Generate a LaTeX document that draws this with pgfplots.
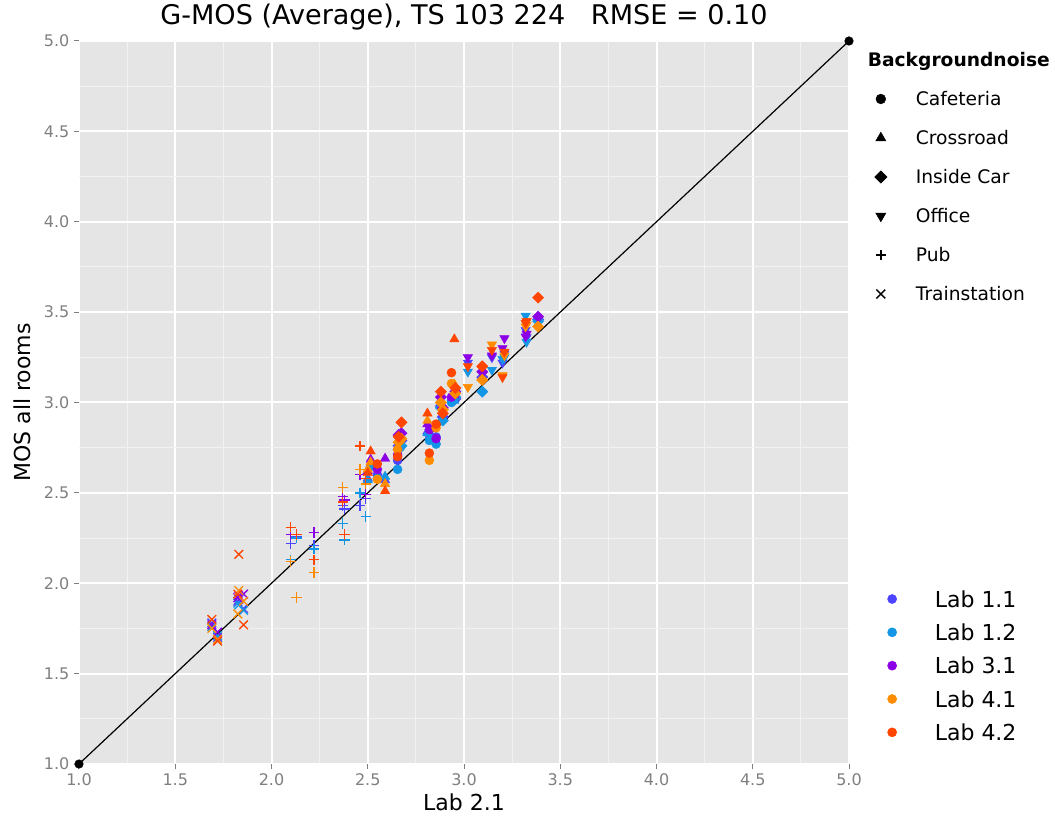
\documentclass[border=0pt]{standalone}
\usepackage{fontspec}
\setmainfont{DejaVu Sans}
\usepackage{pgfplots}
\usepackage{pgfplotstable}
\pgfplotsset{compat=1.18}

\definecolor{panelbg}{HTML}{E5E5E5}
\definecolor{minorgrid}{HTML}{F2F2F2}
\definecolor{axisgray}{HTML}{7F7F7F}
\definecolor{lab11}{HTML}{4C44FF}
\definecolor{lab12}{HTML}{1496E6}
\definecolor{lab31}{HTML}{8C00E6}
\definecolor{lab41}{HTML}{FF8C00}
\definecolor{lab42}{HTML}{FF4500}

% plot symbols, one per background noise
\pgfdeclareplotmark{gcirc}{\pgfsetlinewidth{0.3pt}%
  \pgfpathcircle{\pgfpointorigin}{\pgfplotmarksize}\pgfusepathqfillstroke}
\pgfdeclareplotmark{gup}{\pgfsetlinewidth{0.3pt}%
  \pgfpathmoveto{\pgfqpoint{0pt}{1.2\pgfplotmarksize}}%
  \pgfpathlineto{\pgfqpoint{-1.039\pgfplotmarksize}{-.6\pgfplotmarksize}}%
  \pgfpathlineto{\pgfqpoint{1.039\pgfplotmarksize}{-.6\pgfplotmarksize}}%
  \pgfpathclose\pgfusepathqfillstroke}
\pgfdeclareplotmark{gdown}{\pgfsetlinewidth{0.3pt}%
  \pgfpathmoveto{\pgfqpoint{0pt}{-1.2\pgfplotmarksize}}%
  \pgfpathlineto{\pgfqpoint{-1.039\pgfplotmarksize}{.6\pgfplotmarksize}}%
  \pgfpathlineto{\pgfqpoint{1.039\pgfplotmarksize}{.6\pgfplotmarksize}}%
  \pgfpathclose\pgfusepathqfillstroke}
\pgfdeclareplotmark{gdia}{\pgfsetlinewidth{0.3pt}%
  \pgfpathmoveto{\pgfqpoint{0pt}{1.25\pgfplotmarksize}}%
  \pgfpathlineto{\pgfqpoint{1.25\pgfplotmarksize}{0pt}}%
  \pgfpathlineto{\pgfqpoint{0pt}{-1.25\pgfplotmarksize}}%
  \pgfpathlineto{\pgfqpoint{-1.25\pgfplotmarksize}{0pt}}%
  \pgfpathclose\pgfusepathqfillstroke}
\pgfdeclareplotmark{gplus}{\pgfsetlinewidth{1.0pt}%
  \pgfpathmoveto{\pgfqpoint{-1.15\pgfplotmarksize}{0pt}}%
  \pgfpathlineto{\pgfqpoint{1.15\pgfplotmarksize}{0pt}}%
  \pgfpathmoveto{\pgfqpoint{0pt}{-1.15\pgfplotmarksize}}%
  \pgfpathlineto{\pgfqpoint{0pt}{1.15\pgfplotmarksize}}%
  \pgfusepathqstroke}
\pgfdeclareplotmark{gcross}{\pgfsetlinewidth{1.0pt}%
  \pgfpathmoveto{\pgfqpoint{-.95\pgfplotmarksize}{-.95\pgfplotmarksize}}%
  \pgfpathlineto{\pgfqpoint{.95\pgfplotmarksize}{.95\pgfplotmarksize}}%
  \pgfpathmoveto{\pgfqpoint{-.95\pgfplotmarksize}{.95\pgfplotmarksize}}%
  \pgfpathlineto{\pgfqpoint{.95\pgfplotmarksize}{-.95\pgfplotmarksize}}%
  \pgfusepathqstroke}

% x = Lab 2.1, y = MOS all rooms, n = background noise
% (1 Trainstation, 2 Pub, 3 Cafeteria, 4 Crossroad, 5 Inside Car, 6 Office)
\pgfplotstableread{
x y n
1.69 1.78 1
1.72 1.70 1
1.83 1.91 1
1.825 1.90 1
1.855 1.86 1
2.10 2.22 2
2.13 2.26 2
2.22 2.21 2
2.37 2.43 2
2.38 2.41 2
2.46 2.43 2
2.49 2.47 2
2.55 2.60 3
2.655 2.68 3
2.82 2.82 3
2.855 2.81 3
2.935 3.01 3
2.515 2.66 4
2.50 2.58 4
2.59 2.57 4
2.81 2.84 4
2.95 3.02 4
2.675 2.79 5
2.66 2.76 5
2.88 2.98 5
2.89 2.92 5
2.955 3.02 5
3.095 3.14 5
3.385 3.46 5
3.02 3.22 6
3.145 3.25 6
3.21 3.27 6
3.20 3.22 6
3.32 3.40 6
3.325 3.36 6
}\labA

\pgfplotstableread{
x y n
1.69 1.76 1
1.72 1.71 1
1.83 1.88 1
1.825 1.89 1
1.855 1.85 1
2.10 2.13 2
2.13 2.25 2
2.22 2.19 2
2.37 2.33 2
2.38 2.24 2
2.46 2.50 2
2.49 2.37 2
2.55 2.58 3
2.655 2.63 3
2.82 2.79 3
2.855 2.77 3
2.935 3.00 3
2.515 2.64 4
2.50 2.57 4
2.59 2.59 4
2.81 2.83 4
2.95 3.01 4
2.675 2.76 5
2.66 2.74 5
2.88 2.97 5
2.89 2.90 5
2.955 3.03 5
3.095 3.06 5
3.385 3.45 5
3.02 3.17 6
3.145 3.18 6
3.21 3.25 6
3.20 3.24 6
3.32 3.48 6
3.325 3.335 6
}\labB

\pgfplotstableread{
x y n
1.69 1.77 1
1.72 1.73 1
1.83 1.93 1
1.825 1.92 1
1.855 1.94 1
2.10 2.27 2
2.13 2.27 2
2.22 2.28 2
2.37 2.48 2
2.38 2.46 2
2.46 2.60 2
2.49 2.49 2
2.55 2.63 3
2.655 2.71 3
2.82 2.85 3
2.855 2.80 3
2.935 3.03 3
2.515 2.685 4
2.50 2.62 4
2.59 2.69 4
2.81 2.88 4
2.95 3.04 4
2.675 2.83 5
2.66 2.82 5
2.88 3.03 5
2.89 2.97 5
2.955 3.06 5
3.095 3.17 5
3.385 3.475 5
3.02 3.25 6
3.145 3.26 6
3.21 3.355 6
3.20 3.30 6
3.32 3.365 6
3.325 3.38 6
}\labC

\pgfplotstableread{
x y n
1.69 1.75 1
1.72 1.69 1
1.83 1.96 1
1.825 1.83 1
1.855 1.90 1
2.10 2.12 2
2.13 1.92 2
2.22 2.06 2
2.37 2.53 2
2.38 2.27 2
2.46 2.63 2
2.49 2.55 2
2.55 2.575 3
2.655 2.74 3
2.82 2.68 3
2.855 2.86 3
2.935 3.105 3
2.515 2.67 4
2.50 2.63 4
2.59 2.55 4
2.81 2.90 4
2.95 3.10 4
2.675 2.80 5
2.66 2.78 5
2.88 3.00 5
2.89 2.96 5
2.955 3.05 5
3.095 3.125 5
3.385 3.42 5
3.02 3.085 6
3.145 3.32 6
3.21 3.26 6
3.20 3.15 6
3.32 3.42 6
3.325 3.43 6
}\labD

\pgfplotstableread{
x y n
1.69 1.80 1
1.72 1.68 1
1.83 2.16 1
1.825 1.94 1
1.855 1.77 1
2.10 2.31 2
2.13 2.27 2
2.22 2.13 2
2.37 2.45 2
2.38 2.27 2
2.46 2.76 2
2.49 2.58 2
2.55 2.66 3
2.655 2.70 3
2.82 2.72 3
2.855 2.88 3
2.935 3.165 3
2.515 2.73 4
2.50 2.61 4
2.59 2.51 4
2.81 2.94 4
2.95 3.35 4
2.675 2.89 5
2.66 2.81 5
2.88 3.06 5
2.89 2.94 5
2.955 3.08 5
3.095 3.20 5
3.385 3.58 5
3.02 3.20 6
3.145 3.29 6
3.21 3.28 6
3.20 3.14 6
3.32 3.44 6
3.325 3.45 6
}\labE

\pgfplotsset{
  % keep only the rows of one background noise
  noise/.style={forget plot, only marks, mark size=3.4pt,
    restrict expr to domain={\thisrow{n}}{#1:#1}},
  panelsize/.style={scale only axis, width=577.5pt, height=542.25pt},
}

% all points of one lab, one symbol per background noise
\newcommand\labpoints[2]{%
  \addplot[noise=1, mark=gcross, color=#1] table[x=x, y=y] {#2};
  \addplot[noise=2, mark=gplus,  color=#1] table[x=x, y=y] {#2};
  \addplot[noise=3, mark=gcirc,  color=#1] table[x=x, y=y] {#2};
  \addplot[noise=4, mark=gup,    color=#1] table[x=x, y=y] {#2};
  \addplot[noise=5, mark=gdia,   color=#1] table[x=x, y=y] {#2};
  \addplot[noise=6, mark=gdown,  color=#1] table[x=x, y=y] {#2};
}

\begin{document}
\begin{tikzpicture}
\useasboundingbox (-59.25pt,-42pt) rectangle (732pt,573pt);
\begin{axis}[
  panelsize,
  xmin=1, xmax=5, ymin=1, ymax=5,
  xtick={1,1.5,...,5}, ytick={1,1.5,...,5},
  minor xtick={1.25,1.75,...,4.75}, minor ytick={1.25,1.75,...,4.75},
  grid=both,
  major grid style={white, line width=1.5pt},
  minor grid style={minorgrid, line width=0.75pt},
  axis background/.style={fill=panelbg},
  axis x line*=bottom, axis y line*=left,
  axis line style={draw=none},
  tick align=outside,
  major tick length=3.75pt, minor tick length=0pt,
  tick style={axisgray, line width=0.75pt},
  scaled ticks=false,
  /pgf/number format/fixed, /pgf/number format/fixed zerofill,
  /pgf/number format/precision=1,
  /pgf/number format/assume math mode=true,
  ticklabel style={font=\fontsize{12}{14}\selectfont, text=axisgray},
  title={G-MOS (Average), TS 103 224\hspace{0.95em}RMSE = 0.10},
  title style={font=\fontsize{20.3}{24}\selectfont,
    at={(axis description cs:0.5,1)}, anchor=base, yshift=6pt},
  xlabel={Lab 2.1},
  xlabel style={font=\fontsize{16.5}{20}\selectfont,
    at={(axis description cs:0.5,0)}, anchor=base, yshift=-35pt},
  ylabel={MOS all rooms},
  ylabel style={font=\fontsize{16.5}{20}\selectfont,
    at={(axis description cs:-0.0636,0.5)}, anchor=base},
  legend cell align=left,
  legend style={at={(axis description cs:1.03334,0.98368)}, anchor=north west,
    draw=none, fill=none, inner sep=0pt, outer sep=0pt,
    row sep=15.75pt, column sep=0pt,
    font=\fontsize{14}{16}\selectfont,
    cells={anchor=base west},
    nodes={inner sep=0pt, text height=10.5pt, text depth=3pt}},
  legend image code/.code={%
    \path[draw=none, fill=none] (0pt,5.1pt) -- (26.25pt,5.1pt);
    \draw[#1] plot coordinates {(0pt,5.1pt)};},
]
\labpoints{lab11}{\labA}
\labpoints{lab12}{\labB}
\labpoints{lab31}{\labC}
\labpoints{lab41}{\labD}
\labpoints{lab42}{\labE}

% identity line
\addplot[forget plot, black, line width=0.9pt, no marks] coordinates {(1,1) (5,5)};
\addplot[forget plot, only marks, mark=*, black, mark size=3.2pt] coordinates {(1,1) (5,5)};

\addlegendimage{empty legend}
\addlegendentry{\hspace*{-36pt}\textbf{Backgroundnoise}}
\addlegendimage{only marks, mark=gcirc, black, mark size=3.7pt}
\addlegendentry{Cafeteria}
\addlegendimage{only marks, mark=gup, black, mark size=3.7pt}
\addlegendentry{Crossroad}
\addlegendimage{only marks, mark=gdia, black, mark size=3.7pt}
\addlegendentry{Inside Car}
\addlegendimage{only marks, mark=gdown, black, mark size=3.7pt}
\addlegendentry{Office}
\addlegendimage{only marks, mark=gplus, black, mark size=3.3pt}
\addlegendentry{Pub}
\addlegendimage{only marks, mark=gcross, black, mark size=3.5pt}
\addlegendentry{Trainstation}
\end{axis}

% colour key for the labs
\begin{axis}[
  panelsize, hide axis,
  xmin=0, xmax=1, ymin=0, ymax=1,
  legend cell align=left,
  legend style={at={(axis description cs:1.05013,0.23983)}, anchor=north west,
    draw=none, fill=none, inner sep=0pt, outer sep=0pt,
    row sep=12.5pt, column sep=0pt,
    font=\fontsize{16.5}{20}\selectfont,
    cells={anchor=base west},
    nodes={inner sep=0pt, text height=12.5pt, text depth=0pt}},
  legend image code/.code={%
    \path[draw=none, fill=none] (0pt,6.2pt) -- (32pt,6.2pt);
    \draw[#1] plot coordinates {(0pt,6.2pt)};},
]
\addlegendimage{only marks, mark=*, lab11, mark size=3.4pt}
\addlegendentry{Lab 1.1}
\addlegendimage{only marks, mark=*, lab12, mark size=3.4pt}
\addlegendentry{Lab 1.2}
\addlegendimage{only marks, mark=*, lab31, mark size=3.4pt}
\addlegendentry{Lab 3.1}
\addlegendimage{only marks, mark=*, lab41, mark size=3.4pt}
\addlegendentry{Lab 4.1}
\addlegendimage{only marks, mark=*, lab42, mark size=3.4pt}
\addlegendentry{Lab 4.2}
\end{axis}
\end{tikzpicture}
\end{document}
